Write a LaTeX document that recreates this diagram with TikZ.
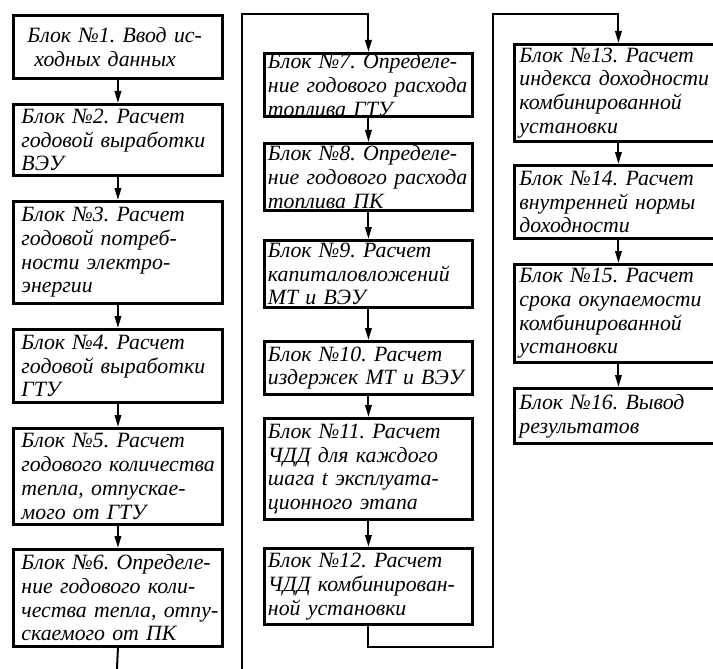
\documentclass[tikz,border=0pt]{standalone}
\usepackage{fontspec}
\setmainfont{Liberation Serif}
\usetikzlibrary{arrows.meta}
\frenchspacing
\newcommand\blkfont{\fontsize{21.8pt}{23.7pt}\selectfont\itshape\frenchspacing}
\begin{document}
\begin{tikzpicture}[x=1pt,y=-1pt,
  blk/.style={draw, line width=2.9pt, anchor=north west, align=left,
    font=\blkfont, inner ysep=0pt, fill=white},
  colA/.style={blk, inner xsep=8pt, text width=193pt, minimum width=209pt},
  colB/.style={blk, inner xsep=3.5pt, text width=201pt, minimum width=208pt},
  colC/.style={blk, inner xsep=5pt, text width=198pt, minimum width=208pt},
  ln/.style={line width=2pt},
  arr/.style={line width=2pt, -{Triangle[length=12pt,width=6.5pt]}}]
\useasboundingbox (0,0) rectangle (713,669);
% column 1
\node[colA, minimum height=63pt] (b1) at (12,14) {\mbox{\hspace*{6pt}Блок №1. Ввод ис-}\\\mbox{\hspace*{13pt}ходных данных}};
\node[colA, minimum height=71pt] (b2) at (12,103) {\mbox{Блок №2. Расчет}\\\mbox{годовой выработки}\\ВЭУ};
\node[colA, minimum height=102pt] (b3) at (12,200) {\mbox{Блок №3. Расчет}\\\mbox{годовой потреб-}\\\mbox{ности электро-}\\энергии};
\node[colA, minimum height=73pt] (b4) at (12,328) {\mbox{Блок №4. Расчет}\\\mbox{годовой выработки}\\ГТУ};
\node[colA, minimum height=96pt] (b5) at (12,427) {\mbox{Блок №5. Расчет}\\\mbox{годового количества}\\\mbox{тепла, отпускае-}\\\mbox{мого от ГТУ}};
\node[colA, minimum height=97pt] (b6) at (12,548) {\mbox{Блок №6. Определе-}\\\mbox{ние годового коли-}\\\mbox{чества тепла, отпу-}\\\mbox{скаемого от ПК}};
% column 2
\node[colB, minimum height=63pt] (b7) at (263,52) {\mbox{Блок №7. Определе-}\\\mbox{ние годового расхода}\\\mbox{топлива ГТУ}};
\node[colB, minimum height=67pt] (b8) at (263,142) {\mbox{Блок №8. Определе-}\\\mbox{ние годового расхода}\\\mbox{топлива ПК}};
\node[colB, minimum height=67pt] (b9) at (263,239) {\mbox{Блок №9. Расчет}\\капиталовложений\\\mbox{МТ и ВЭУ}};
\node[colB, minimum height=53pt] (b10) at (263,340) {\mbox{Блок №10. Расчет}\\\mbox{издержек МТ и ВЭУ}};
\node[colB, minimum height=101pt] (b11) at (263,417) {\mbox{Блок №11. Расчет}\\\mbox{ЧДД для каждого}\\\mbox{шага t эксплуата-}\\\mbox{ционного этапа}};
\node[colB, minimum height=76pt] (b12) at (263,547) {\mbox{Блок №12. Расчет}\\\mbox{ЧДД комбинирован-}\\\mbox{ной установки}};
% column 3
\node[colC, minimum height=97pt] (b13) at (513,43) {\mbox{Блок №13. Расчет}\\\mbox{индекса доходности}\\комбинированной\\установки};
\node[colC, minimum height=73pt] (b14) at (513,164) {\mbox{Блок №14. Расчет}\\\mbox{внутренней нормы}\\доходности};
\node[colC, minimum height=98pt] (b15) at (513,263) {\mbox{Блок №15. Расчет}\\\mbox{срока окупаемости}\\комбинированной\\установки};
\node[colC, minimum height=55pt] (b16) at (513,387) {\mbox{Блок №16. Вывод}\\результатов};
% connectors column 1
\draw[arr] (b1.south) -- (b2.north);
\draw[arr] (b2.south) -- (b3.north);
\draw[arr] (b3.south) -- (b4.north);
\draw[arr] (b4.south) -- (b5.north);
\draw[arr] (b5.south) -- (b6.north);
\coordinate (e1) at (116,690);
\draw[ln] (b6.south) -- (e1);
% to column 2
\coordinate (e2) at (242,690);
\coordinate (t2) at (242,14);
\draw[arr] (e2) -- (t2) -| (b7.north);
\draw[arr] (b7.south) -- (b8.north);
\draw[arr] (b8.south) -- (b9.north);
\draw[arr] (b9.south) -- (b10.north);
\draw[arr] (b10.south) -- (b11.north);
\draw[arr] (b11.south) -- (b12.north);
% to column 3
\coordinate (m3) at (493,647);
\coordinate (t3) at (493,14);
\draw[arr] (b12.south) |- (m3) -- (t3) -| (b13.north);
\draw[arr] (b13.south) -- (b14.north);
\draw[arr] (b14.south) -- (b15.north);
\draw[arr] (b15.south) -- (b16.north);
\end{tikzpicture}
\end{document}
